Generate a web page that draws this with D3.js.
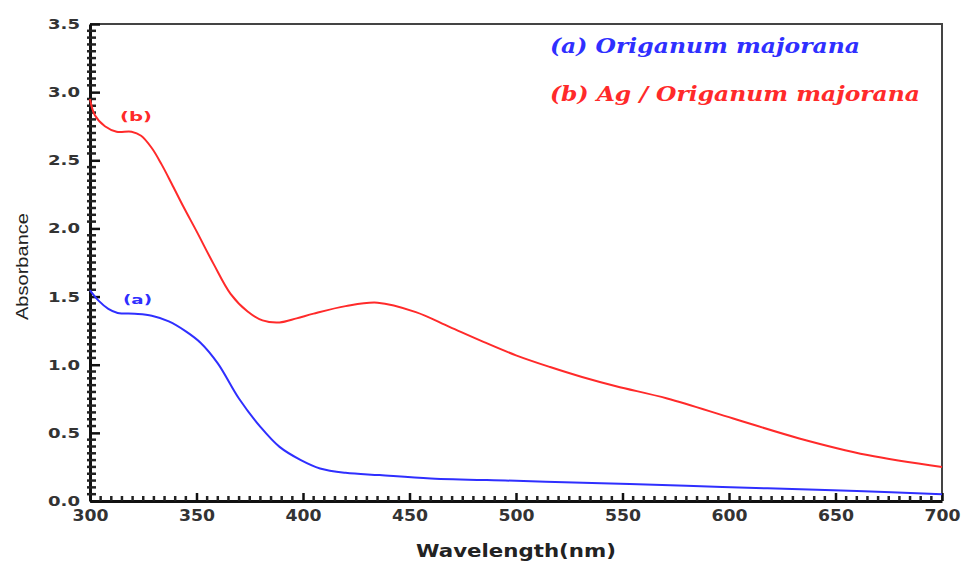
<!DOCTYPE html>
<html>
<head>
<meta charset="utf-8">
<script src="https://cdn.jsdelivr.net/npm/d3@7"></script>
<style>
  body { margin: 0; background: #fff; }
  svg { display: block; }
  .tick text { font-family: "DejaVu Sans", sans-serif; font-weight: bold; fill: #333; }
</style>
</head>
<body>
<div id="chart"></div>
<script>
// wavelength (nm) and absorbance
const wlA = [300, 304, 308.6, 313, 321, 329, 337, 345, 352, 360, 370, 380, 389, 399, 408, 420, 436, 460, 500, 540, 580, 618, 660, 700];
const absA = [1.545, 1.47, 1.41, 1.38, 1.374, 1.36, 1.318, 1.245, 1.16, 1.01, 0.75, 0.544, 0.397, 0.30, 0.239, 0.207, 0.19, 0.166, 0.148, 0.13, 0.112, 0.093, 0.073, 0.05];

const wlB = [300, 302.3, 307, 312.5, 319.5, 324, 329, 333.6, 338.3, 344, 350, 358, 366, 374, 381, 389, 397, 405, 420, 435, 453, 469, 485, 500, 516, 531, 547, 571, 602, 633, 665, 700];
const absB = [2.95, 2.83, 2.75, 2.71, 2.71, 2.68, 2.59, 2.47, 2.33, 2.155, 1.98, 1.74, 1.52, 1.39, 1.325, 1.31, 1.34, 1.375, 1.43, 1.455, 1.386, 1.276, 1.166, 1.069, 0.983, 0.91, 0.842, 0.752, 0.605, 0.459, 0.337, 0.25];

const xTicks = [300, 350, 400, 450, 500, 550, 600, 650, 700];
const yTicks = [0, 0.5, 1.0, 1.5, 2.0, 2.5, 3.0, 3.5];

const legendLabels = ["(a) Origanum majorana", "(b) Ag / Origanum majorana"];
const legendWidths = [310, 370];
const colorA = '#2f2fff', colorB = '#ff2a2a';

const width = 963, height = 561;
const margin = {left: 90, right: 21, top: 24, bottom: 60};

const svg = d3.select('#chart').append('svg')
    .attr('width', width)
    .attr('height', height);

const x = d3.scaleLinear().domain([300, 700]).range([margin.left, width - margin.right]);
const y = d3.scaleLinear().domain([0, 3.5]).range([height - margin.bottom, margin.top]);

// frame (top + right)
svg.append('path')
    .attr('d', 'M' + x(300) + ',' + y(3.5) + 'H' + x(700) + 'V' + y(0))
    .attr('fill', 'none')
    .attr('stroke', '#444')
    .attr('stroke-width', 2);

// minor ticks, every 5 nm / 0.05
const minorX = d3.range(300, 701, 5).filter(v => v % 50 != 0);
const minorY = d3.range(0, 71).map(i => i * 0.05).filter((v, i) => i % 10 != 0);

const xAxis = svg.append('g')
    .attr('transform', 'translate(0,' + y(0) + ')')
    .call(d3.axisBottom(x).tickValues(xTicks).tickSizeInner(-8).tickSizeOuter(0).tickPadding(9));
const yAxis = svg.append('g')
    .attr('transform', 'translate(' + x(300) + ',0)')
    .call(d3.axisLeft(y).tickValues(yTicks).tickFormat(d3.format('.1f')).tickSizeInner(-10).tickSizeOuter(0).tickPadding(10));

[xAxis, yAxis].forEach(a => {
  a.select('.domain').attr('stroke', '#111').attr('stroke-width', 3);
  a.selectAll('.tick line').attr('stroke', '#111').attr('stroke-width', 2.5);
});
xAxis.selectAll('.tick text')
    .attr('font-size', 16)
    .attr('textLength', 36)
    .attr('lengthAdjust', 'spacingAndGlyphs');
yAxis.selectAll('.tick text')
    .attr('font-size', 14)
    .attr('textLength', 32)
    .attr('lengthAdjust', 'spacingAndGlyphs');

svg.append('g').attr('class', 'minor-x').selectAll('line').data(minorX).enter().append('line')
    .attr('x1', d => x(d)).attr('x2', d => x(d))
    .attr('y1', y(0)).attr('y2', y(0) - 5)
    .attr('stroke', '#222').attr('stroke-width', 2.5);
svg.append('g').attr('class', 'minor-y').selectAll('line').data(minorY).enter().append('line')
    .attr('y1', d => y(d)).attr('y2', d => y(d))
    .attr('x1', x(300) - 3).attr('x2', x(300) + 6)
    .attr('stroke', '#222').attr('stroke-width', 2.5);

// curves
const line = d3.line().x(d => x(d[0])).y(d => y(d[1])).curve(d3.curveCatmullRom.alpha(0.5));

svg.append('path')
    .datum(d3.zip(wlB, absB))
    .attr('d', line)
    .attr('fill', 'none')
    .attr('stroke', colorB)
    .attr('stroke-width', 2);

svg.append('path')
    .datum(d3.zip(wlA, absA))
    .attr('d', line)
    .attr('fill', 'none')
    .attr('stroke', colorA)
    .attr('stroke-width', 2);

// curve labels
svg.append('text').attr('x', 120).attr('y', 121)
    .attr('font-family', 'DejaVu Sans, sans-serif').attr('font-weight', 'bold')
    .attr('font-size', 13).attr('textLength', 32).attr('lengthAdjust', 'spacingAndGlyphs')
    .attr('fill', colorB).text('(b)');
svg.append('text').attr('x', 123).attr('y', 304)
    .attr('font-family', 'DejaVu Sans, sans-serif').attr('font-weight', 'bold')
    .attr('font-size', 13).attr('textLength', 29).attr('lengthAdjust', 'spacingAndGlyphs')
    .attr('fill', colorA).text('(a)');

// legend
svg.selectAll('.legend').data(legendLabels).enter().append('text')
    .attr('class', 'legend')
    .attr('x', 550)
    .attr('y', (d, i) => 53 + i * 48)
    .attr('font-family', 'DejaVu Serif, Liberation Serif, serif')
    .attr('font-weight', 'bold')
    .attr('font-style', 'italic')
    .attr('font-size', 20)
    .attr('textLength', (d, i) => legendWidths[i])
    .attr('lengthAdjust', 'spacingAndGlyphs')
    .attr('fill', (d, i) => i == 0 ? colorA : colorB)
    .text(d => d);

// axis titles
svg.append('text')
    .attr('x', 416)
    .attr('y', 557)
    .attr('font-family', 'DejaVu Sans, sans-serif')
    .attr('font-weight', 'bold')
    .attr('font-size', 17)
    .attr('textLength', 200)
    .attr('lengthAdjust', 'spacingAndGlyphs')
    .attr('fill', '#222')
    .text('Wavelength(nm)');

svg.append('text')
    .attr('transform', 'translate(28,320) rotate(-90)')
    .attr('font-family', 'Liberation Sans, Arial, sans-serif')
    .attr('font-size', 17)
    .attr('textLength', 107)
    .attr('lengthAdjust', 'spacingAndGlyphs')
    .attr('fill', '#222')
    .text('Absorbance');
</script>
</body>
</html>
